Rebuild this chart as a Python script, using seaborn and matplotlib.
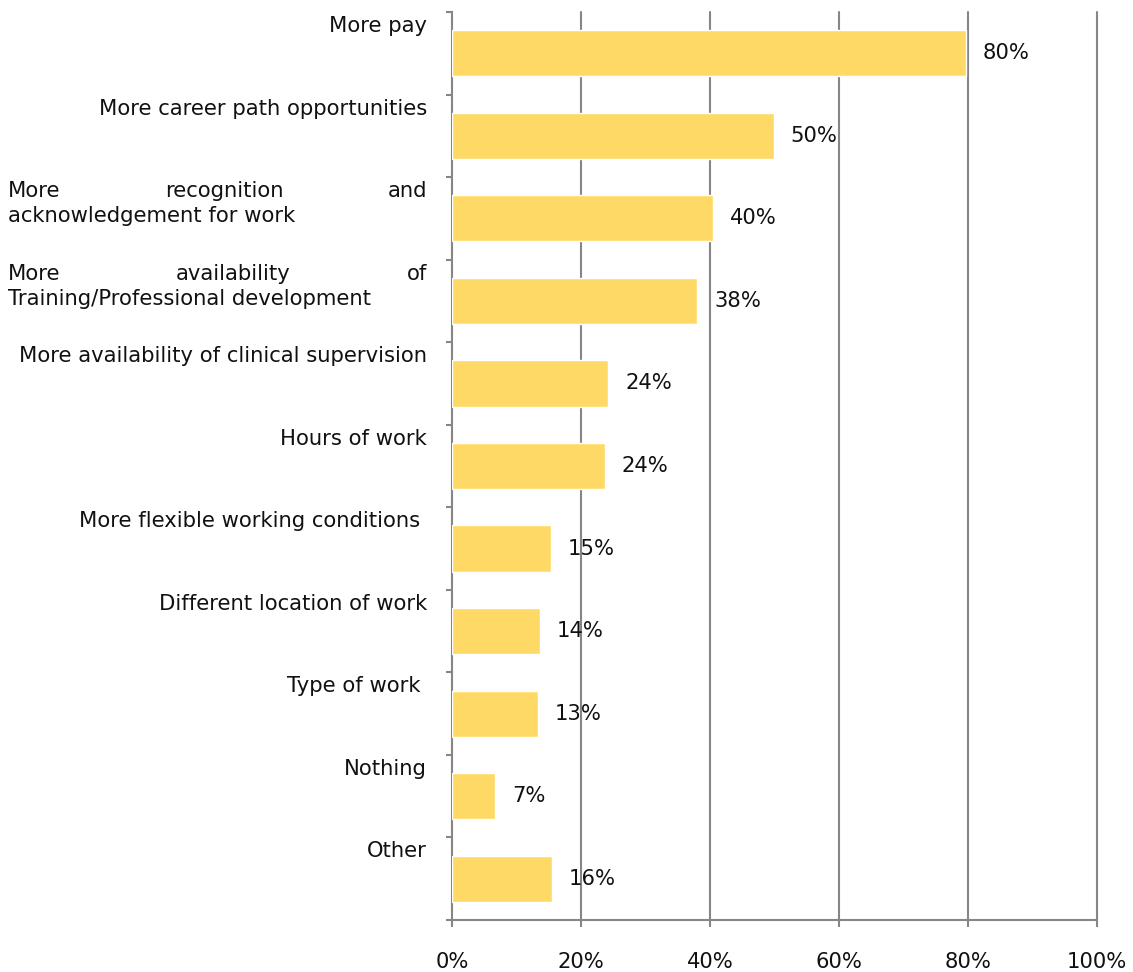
import matplotlib
matplotlib.use("Agg")
import matplotlib.pyplot as plt
import seaborn as sns
import pandas as pd
import numpy as np

categories = [
    "More pay",
    "More career path opportunities",
    "More recognition and acknowledgement for work",
    "More availability of Training/Professional development",
    "More availability of clinical supervision",
    "Hours of work",
    "More flexible working conditions ",
    "Different location of work",
    "Type of work ",
    "Nothing",
    "Other",
]
values = [79.7, 49.9, 40.5, 38.0, 24.2, 23.7, 15.3, 13.6, 13.3, 6.7, 15.5]
value_labels = ["80%", "50%", "40%", "38%", "24%", "24%", "15%", "14%", "13%", "7%", "16%"]
tick_values = [0, 20, 40, 60, 80, 100]
tick_labels = ["0%", "20%", "40%", "60%", "80%", "100%"]

# justified two-line labels: (first-line words, second line)
justified = {
    2: (["More", "recognition", "and"], "acknowledgement for work"),
    3: (["More", "availability", "of"], "Training/Professional development"),
}

W, H = 1133, 972
sns.set_theme(style="white")
plt.rcParams["font.family"] = ["DejaVu Sans"]
FS = 15.2
GRAY = "#868686"
PX = 72 / 100  # points per pixel

fig = plt.figure(figsize=(W / 100, H / 100), dpi=100)
ax = fig.add_axes([452 / W, (H - 920) / H, (1097 - 452) / W, (920 - 12) / H])

df = pd.DataFrame({"cat": categories, "val": values})
sns.barplot(data=df, y="cat", x="val", orient="h", color="#FFD966",
            saturation=1, width=0.56, ax=ax, zorder=3)

ax.set_xlim(0, 100)
ax.set_ylim(len(categories) - 0.5, -0.5)
ax.set_xlabel("")
ax.set_ylabel("")
ax.set_xticks(tick_values)
ax.set_xticklabels(tick_labels, fontsize=FS, color="#111111")
ax.tick_params(axis="x", length=7 * PX, width=1.5, color=GRAY, pad=25 * PX,
               direction="out", bottom=True)
ax.set_yticks([])
ax.set_yticks(np.arange(-0.5, len(categories), 1), minor=True)
ax.tick_params(axis="y", which="minor", length=6 * PX, width=1.5, color=GRAY, left=True)
ax.set_yticklabels([], minor=True)

for s in ["top", "right"]:
    ax.spines[s].set_visible(False)
for s in ["left", "bottom"]:
    ax.spines[s].set_color(GRAY)
    ax.spines[s].set_linewidth(1.5)
ax.set_axisbelow(True)
for t in tick_values[1:]:
    ax.axvline(t, color=GRAY, lw=1.5, zorder=1, clip_on=False)

# value labels
for i, (v, lab) in enumerate(zip(values, value_labels)):
    ax.annotate(lab, xy=(v, i), xytext=(17, 0), textcoords="offset pixels",
                ha="left", va="center", fontsize=FS, color="#111111", zorder=4)

# category labels
fig.canvas.draw()
renderer = fig.canvas.get_renderer()
left_px, right_px = 8, 427
line_pitch = 25
for i, cat in enumerate(categories):
    ytop_disp = ax.transData.transform((0, i - 0.5))[1] - 4
    yf = ytop_disp / H
    if i in justified:
        words, second = justified[i]
        txts = [fig.text(0, yf, w, fontsize=FS, va="top", ha="left", color="#111111") for w in words]
        widths = [t.get_window_extent(renderer).width for t in txts]
        gap = (right_px - left_px - sum(widths)) / (len(words) - 1)
        x = left_px
        for t, wd in zip(txts, widths):
            t.set_x(x / W)
            x += wd + gap
        fig.text(left_px / W, (ytop_disp - line_pitch) / H, second, fontsize=FS,
                 va="top", ha="left", color="#111111")
    else:
        fig.text(right_px / W, yf, cat, fontsize=FS, va="top", ha="right", color="#111111")

fig.savefig("out.png", dpi=100)
